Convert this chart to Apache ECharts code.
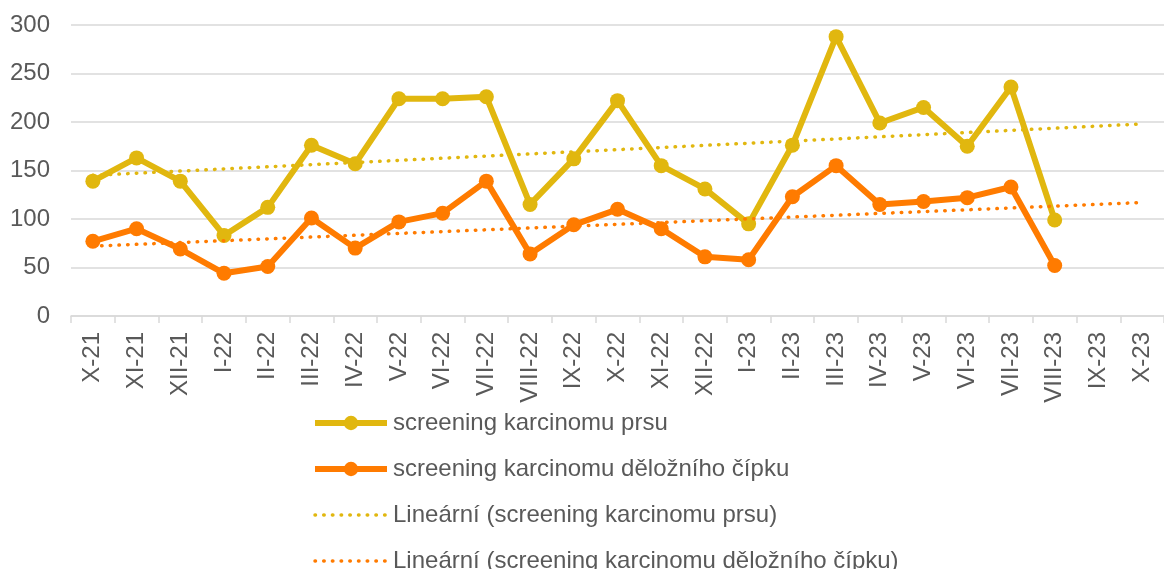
<!DOCTYPE html>
<html>
<head>
<meta charset="utf-8">
<script src="https://cdn.jsdelivr.net/npm/echarts@6/dist/echarts.min.js"></script>
<style>
  html, body { margin: 0; padding: 0; background: #fff; }
  #chart { width: 1164px; height: 569px; }
</style>
</head>
<body>
<div id="chart"></div>
<script>
const months = [
  "X-21", "XI-21", "XII-21", "I-22", "II-22", "III-22", "IV-22", "V-22",
  "VI-22", "VII-22", "VIII-22", "IX-22", "X-22", "XI-22", "XII-22", "I-23",
  "II-23", "III-23", "IV-23", "V-23", "VI-23", "VII-23", "VIII-23", "IX-23", "X-23"
];
const prsu = [139, 163, 139, 83, 112, 176, 157, 224, 224, 226, 115, 162, 222, 155, 131, 95, 176, 288, 199, 215, 175, 236, 99];
const cipek = [77, 90, 69, 44, 51, 101, 70, 97, 106, 139, 64, 94, 110, 90, 61, 58, 123, 155, 115, 118, 122, 133, 52];
// trendline ends, read at the first and last month
const trendPrsu = [145, 198];
const trendCipek = [72, 117];

const names = [
  "screening karcinomu prsu",
  "screening karcinomu děložního čípku",
  "Lineární (screening karcinomu prsu)",
  "Lineární (screening karcinomu děložního čípku)"
];

const yellow = "#E1B70F";
const orange = "#FF7B00";
const textColor = "#595959";
const font = "Liberation Sans, Arial, sans-serif";
const dotted = [0.5, 8.2];

const chart = echarts.init(document.getElementById("chart"));

const last = months.length - 1;

const option = {
  animation: false,
  grid: { left: 71, top: 25, width: 1102, height: 291, containLabel: false },
  legend: {
    orient: "vertical",
    left: 312,
    top: 411,
    height: 220,
    padding: 0,
    itemWidth: 72,
    itemHeight: 18,
    itemGap: 22,
    data: [
      { name: names[0], lineStyle: { width: 6 } },
      { name: names[1], lineStyle: { width: 6 } },
      { name: names[2], itemStyle: { opacity: 0 }, lineStyle: { width: 3.5, type: dotted, cap: "round" } },
      { name: names[3], itemStyle: { opacity: 0 }, lineStyle: { width: 3.5, type: dotted, cap: "round" } }
    ],
    textStyle: { color: textColor, fontSize: 24, fontFamily: font, padding: [0, 0, 0, 1] }
  },
  xAxis: {
    type: "category",
    data: months,
    boundaryGap: true,
    axisLine: { lineStyle: { color: "#D9D9D9", width: 1.5 } },
    axisTick: { show: true, length: 7, lineStyle: { color: "#D9D9D9", width: 1.5 } },
    axisLabel: {
      interval: 0,
      rotate: 90,
      margin: 16,
      color: textColor,
      fontSize: 24,
      fontFamily: font
    }
  },
  yAxis: {
    type: "value",
    min: 0,
    max: 300,
    interval: 50,
    axisLine: { show: false },
    axisTick: { show: false },
    splitLine: { lineStyle: { color: "#D9D9D9", width: 1.5 } },
    axisLabel: { margin: 21, color: textColor, fontSize: 24, fontFamily: font }
  },
  series: [
    {
      name: names[0],
      type: "line",
      data: prsu,
      symbol: "circle",
      symbolSize: 15,
      itemStyle: { color: yellow },
      lineStyle: { color: yellow, width: 6 },
      z: 2
    },
    {
      name: names[1],
      type: "line",
      data: cipek,
      symbol: "circle",
      symbolSize: 15,
      itemStyle: { color: orange },
      lineStyle: { color: orange, width: 6 },
      z: 3
    },
    {
      name: names[2],
      type: "line",
      data: [[months[0], trendPrsu[0]], [months[last], trendPrsu[1]]],
      showSymbol: false,
      symbol: "none",
      itemStyle: { color: yellow },
      lineStyle: { color: yellow, width: 3.5, type: dotted, cap: "round" },
      z: 4
    },
    {
      name: names[3],
      type: "line",
      data: [[months[0], trendCipek[0]], [months[last], trendCipek[1]]],
      showSymbol: false,
      symbol: "none",
      itemStyle: { color: orange },
      lineStyle: { color: orange, width: 3.5, type: dotted, cap: "round" },
      z: 4
    }
  ]
};

chart.setOption(option);
</script>
</body>
</html>
